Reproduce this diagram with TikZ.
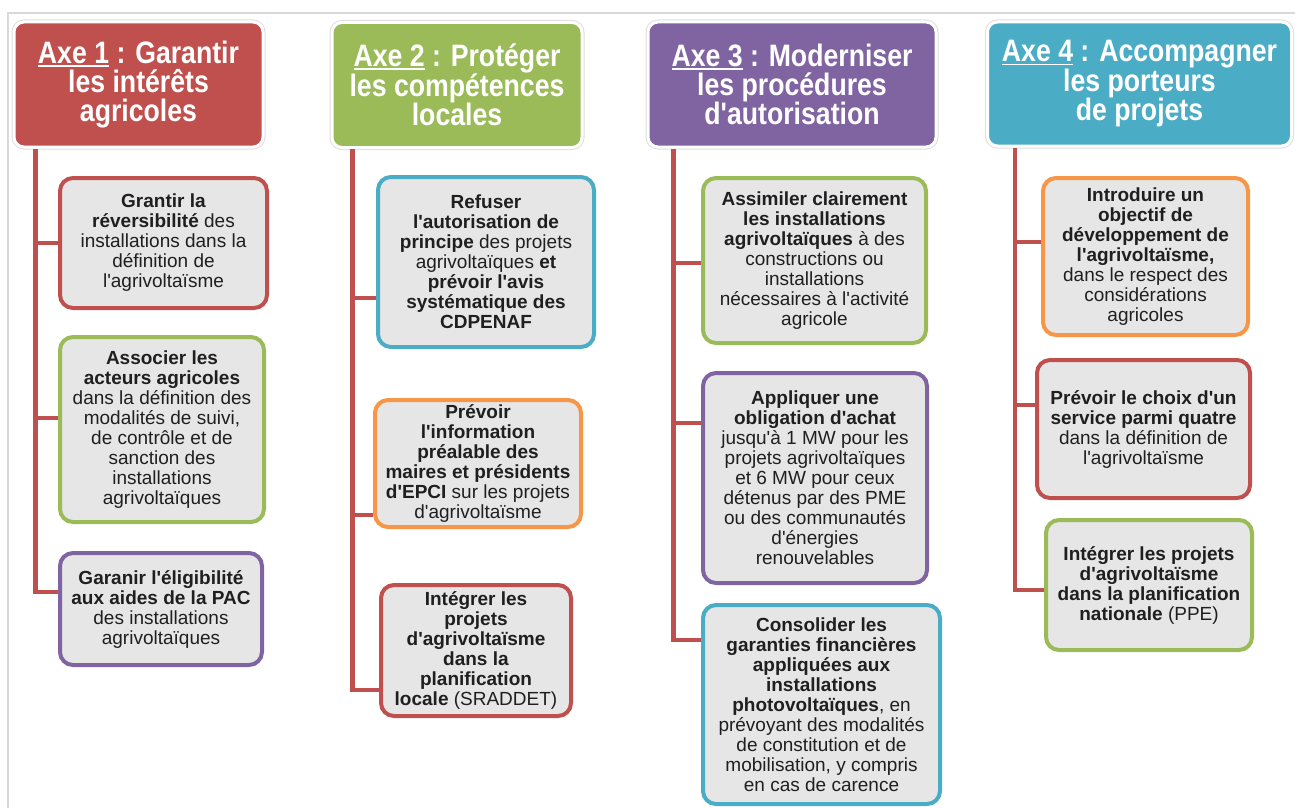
\documentclass[tikz,border=0pt]{standalone}
\usepackage{fontspec}
\newfontfamily\bodyfont{Liberation Sans}
\newfontfamily\headfont{Liberation Sans}[FakeStretch=0.86]
\definecolor{cred}{HTML}{C0504D}
\definecolor{cgreen}{HTML}{9BBB59}
\definecolor{cpurple}{HTML}{8064A2}
\definecolor{cblue}{HTML}{4BACC6}
\definecolor{corange}{HTML}{F79646}
\definecolor{boxfill}{HTML}{E6E6E6}
\definecolor{framecol}{HTML}{D9D9D9}
\newcommand\axeul[1]{{\setbox0\hbox{#1}\rlap{\rule[-3.5pt]{\wd0}{1.8pt}}\box0}}
\begin{document}
\begin{tikzpicture}[x=1pt,y=-1pt,
  head/.style={rectangle, rounded corners=10pt, draw=white, line width=3pt,
    preaction={draw=black!13, line width=5pt},
    text=white, align=center, inner sep=0pt,
    font=\headfont\bfseries\fontsize{31}{29}\selectfont},
  cbox/.style={rectangle, rounded corners=13pt, line width=4pt, fill=boxfill,
    text=black!88, align=center, inner sep=0pt,
    font=\bodyfont\fontsize{19}{20}\selectfont},
  conn/.style={draw=cred, line width=4.5pt}
]
\useasboundingbox (0,0) rectangle (1295,808);
\draw[framecol, line width=1.2pt] (8,808) -- (8,13) -- (1295,13);

% headers
\node[head, fill=cred, minimum width=249pt, minimum height=125pt] (h1) at (138.5,84.5)
  {\axeul{Axe 1} : Garantir\\les intérêts\\agricoles};
\node[head, fill=cgreen, minimum width=250pt, minimum height=125pt] (h2) at (457,85)
  {\axeul{Axe 2} : Protéger\\les compétences\\locales};
\node[head, fill=cpurple, minimum width=288pt, minimum height=125pt] (h3) at (792,84.5)
  {\axeul{Axe 3} : Moderniser\\les procédures\\d'autorisation};
\node[head, fill=cblue, minimum width=304pt, minimum height=124pt] (h4) at (1139.5,84)
  {\axeul{Axe 4} : Accompagner\\les porteurs\\de projets};

% column 1
\node[cbox, draw=cred, minimum width=207pt, minimum height=130pt] (b11) at (163.5,243)
  {\textbf{Grantir la}\\\textbf{réversibilité} des\\installations dans la\\définition de\\l'agrivoltaïsme};
\node[cbox, draw=cgreen, minimum width=204pt, minimum height=185pt] (b12) at (162,429.5)
  {\textbf{Associer les}\\\textbf{acteurs agricoles}\\dans la définition des\\modalités de suivi,\\de contrôle et de\\sanction des\\installations\\agrivoltaïques};
\node[cbox, draw=cpurple, minimum width=202pt, minimum height=112pt] (b13) at (161,609)
  {\textbf{Garanir l'éligibilité}\\\textbf{aux aides de la PAC}\\des installations\\agrivoltaïques};

% column 2
\node[cbox, draw=cblue, minimum width=216pt, minimum height=170pt] (b21) at (486,262)
  {\textbf{Refuser}\\\textbf{l'autorisation de}\\\textbf{principe} des projets\\agrivoltaïques \textbf{et}\\\textbf{prévoir l'avis}\\\textbf{systématique des}\\\textbf{CDPENAF}};
\node[cbox, draw=corange, minimum width=206pt, minimum height=127pt] (b22) at (478,463.5)
  {\textbf{Prévoir}\\\textbf{l'information}\\\textbf{préalable des}\\\textbf{maires et présidents}\\\textbf{d'EPCI} sur les projets\\d'agrivoltaïsme};
\node[cbox, draw=cred, minimum width=190pt, minimum height=131pt] (b23) at (476,650.5)
  {\textbf{Intégrer les}\\\textbf{projets}\\\textbf{d'agrivoltaïsme}\\\textbf{dans la}\\\textbf{planification}\\\textbf{locale} (SRADDET)};

% column 3
\node[cbox, draw=cgreen, minimum width=223pt, minimum height=165pt] (b31) at (814.5,260.5)
  {\textbf{Assimiler clairement}\\\textbf{les installations}\\\textbf{agrivoltaïques} à des\\constructions ou\\installations\\nécessaires à l'activité\\agricole};
\node[cbox, draw=cpurple, minimum width=224pt, minimum height=210pt] (b32) at (815,478)
  {\textbf{Appliquer une}\\\textbf{obligation d'achat}\\jusqu'à 1 MW pour les\\projets agrivoltaïques\\et 6 MW pour ceux\\détenus par des PME\\ou des communautés\\d'énergies\\renouvelables};
\node[cbox, draw=cblue, minimum width=237pt, minimum height=199pt] (b33) at (821.5,704.5)
  {\textbf{Consolider les}\\\textbf{garanties financières}\\\textbf{appliquées aux}\\\textbf{installations}\\\textbf{photovoltaïques}, en\\prévoyant des modalités\\de constitution et de\\mobilisation, y compris\\en cas de carence};

% column 4
\node[cbox, draw=corange, minimum width=205pt, minimum height=157pt] (b41) at (1145.5,256.5)
  {\textbf{Introduire un}\\\textbf{objectif de}\\\textbf{développement de}\\\textbf{l'agrivoltaïsme,}\\dans le respect des\\considérations\\agricoles};
\node[cbox, draw=cred, minimum width=213pt, minimum height=138pt] (b42) at (1143.5,429)
  {\textbf{Prévoir le choix d'un}\\\textbf{service parmi quatre}\\dans la définition de\\l'agrivoltaïsme};
\node[cbox, draw=cgreen, minimum width=206pt, minimum height=130pt] (b43) at (1149,585)
  {\textbf{Intégrer les projets}\\\textbf{d'agrivoltaïsme}\\\textbf{dans la planification}\\\textbf{nationale} (PPE)};

% connectors
\coordinate (v1) at ([xshift=23pt]h1.south west);
\coordinate (p11) at (b11.west);
\coordinate (p12) at ([yshift=11.5pt]b12.west);
\coordinate (p13) at ([yshift=17pt]b13.west);
\draw[conn] (v1) |- (p13);
\draw[conn] (v1 |- p11) -- (p11);
\draw[conn] (v1 |- p12) -- (p12);

\coordinate (v2) at ([xshift=22pt]h2.south west);
\coordinate (p21) at ([yshift=-36pt]b21.west);
\coordinate (p22) at ([yshift=-51.5pt]b22.west);
\coordinate (p23) at ([yshift=-39.5pt]b23.west);
\draw[conn] (v2) |- (p23);
\draw[conn] (v2 |- p21) -- (p21);
\draw[conn] (v2 |- p22) -- (p22);

\coordinate (v3) at ([xshift=27pt]h3.south west);
\coordinate (p31) at ([yshift=-2.5pt]b31.west);
\coordinate (p32) at ([yshift=55pt]b32.west);
\coordinate (p33) at ([yshift=64.5pt]b33.west);
\draw[conn] (v3) |- (p33);
\draw[conn] (v3 |- p31) -- (p31);
\draw[conn] (v3 |- p32) -- (p32);

\coordinate (v4) at ([xshift=29pt]h4.south west);
\coordinate (p41) at ([yshift=14.5pt]b41.west);
\coordinate (p42) at ([yshift=24pt]b42.west);
\coordinate (p43) at ([yshift=-5pt]b43.west);
\draw[conn] (v4) |- (p43);
\draw[conn] (v4 |- p41) -- (p41);
\draw[conn] (v4 |- p42) -- (p42);
\end{tikzpicture}
\end{document}
